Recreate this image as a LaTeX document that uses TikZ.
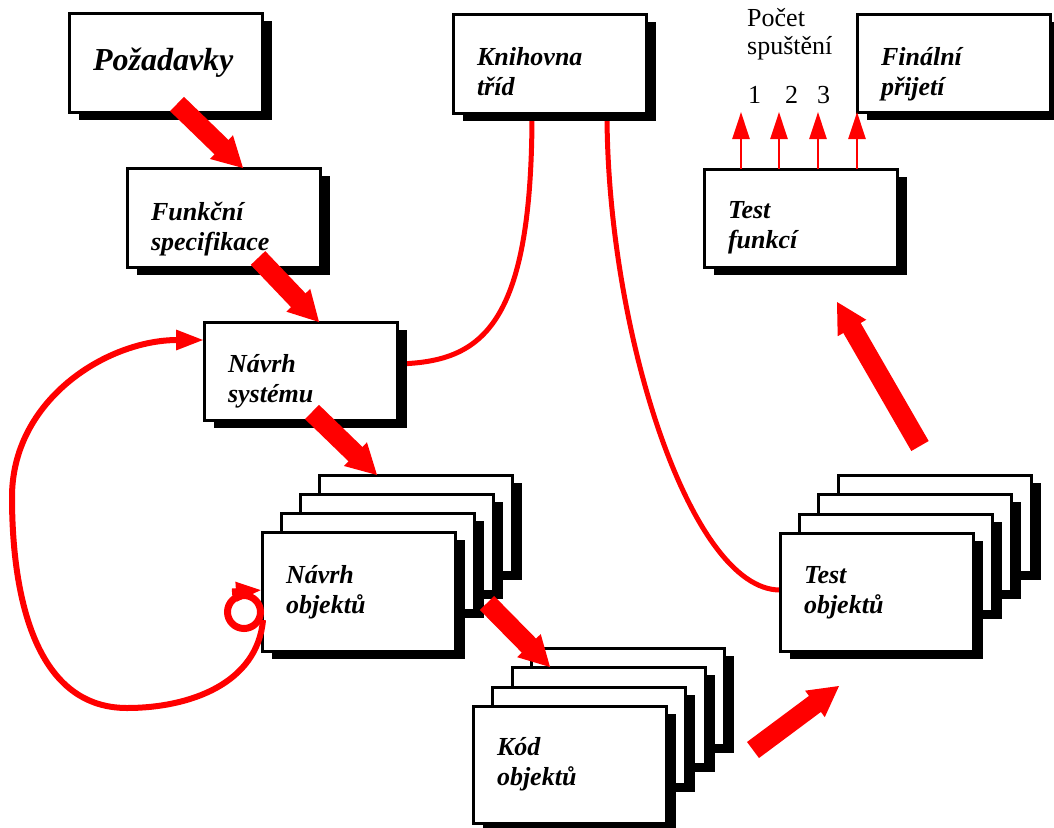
\documentclass[tikz,border=0pt]{standalone}
\usepackage{fontspec}
\setmainfont{Liberation Serif}
\usetikzlibrary{arrows.meta,shadows,calc}

\tikzset{
  card/.style={rectangle, draw=black, line width=3pt, fill=white,
    anchor=north west, inner xsep=24pt, inner ysep=0pt, outer sep=0pt,
    text width=145pt, align=left, text height=50pt, text depth=48pt,
    font=\fontsize{26}{30}\selectfont\bfseries\itshape,
    general shadow={fill=black, shadow xshift=10pt, shadow yshift=-8pt}},
  frontcard/.style={text depth=68pt},
  link/.style={draw=red, line width=5pt},
  loopline/.style={draw=red, line width=6pt},
  ringline/.style={draw=red, line width=7pt},
  run/.style={draw=red, line width=2.5pt, -{Triangle[length=27pt,width=17pt]}},
  plain/.style={font=\fontsize{26}{28}\selectfont, inner sep=0pt},
}

% fat red block arrow: shaft with a butt tail and a triangular head
\newcommand\flowarrow[2]{%
  \coordinate (fa-tail) at #1;
  \coordinate (fa-tip) at #2;
  \coordinate (fa-base) at ($(fa-tip)!30pt!(fa-tail)$);
  \draw[red, line width=20pt] (fa-tail) -- ($(fa-tip)!26pt!(fa-tail)$);
  \fill[red] (fa-tip) -- ($(fa-base)!16.5pt!90:(fa-tip)$)
    -- ($(fa-base)!16.5pt!-90:(fa-tip)$) -- cycle;
}

\begin{document}
\begin{tikzpicture}[x=1pt, y=1pt]
\useasboundingbox (0,0) rectangle (1054,-827);

% library links, drawn first so the boxes cover their ends
\coordinate (libA) at (532,-113);
\coordinate (libB) at (607,-113);
\coordinate (nsE) at (397,-364);
\coordinate (toW) at (780,-590);
\draw[link] (libA) .. controls (532,-330) and (480,-362) .. (nsE);
\draw[link] (libB) .. controls (607,-330) and (690,-590) .. (toW);

% single boxes
\node[card, text height=57pt, text depth=42pt,
      font=\fontsize{32}{36}\selectfont\bfseries\itshape] (req) at (69,-13) {Požadavky};
\node[card, text height=52pt, text depth=47pt] (fs) at (127,-168) {Funkční\\specifikace};
\node[card] (ns) at (204,-322) {Návrh\\systému};
\node[card, text height=51pt, text depth=48pt] (lib) at (453,-14) {Knihovna\\tříd};
\node[card, text height=49pt, text depth=49pt] (tf) at (704,-169) {Test\\funkcí};
\node[card, text height=51pt, text depth=47pt] (fin) at (857,-14) {Finální\\přijetí};

% stack: object design
\node[card, text depth=47pt] (no4) at (319,-475) {};
\node[card, text depth=47pt] (no3) at (300,-494) {};
\node[card, text depth=47pt] (no2) at (281,-513) {};
\node[card, frontcard, text height=51pt] (no1) at (262,-532) {Návrh\\objektů};

% stack: object code
\node[card, text depth=47pt] (ko4) at (531,-648) {};
\node[card, text depth=47pt] (ko3) at (512,-667) {};
\node[card, text depth=47pt] (ko2) at (492,-687) {};
\node[card, frontcard, text height=49pt] (ko1) at (473,-706) {Kód\\objektů};

% stack: object tests
\node[card, text depth=47pt] (to4) at (838,-475) {};
\node[card, text depth=47pt] (to3) at (818,-494) {};
\node[card, text depth=47pt] (to2) at (799,-514) {};
\node[card, frontcard] (to1) at (780,-533) {Test\\objektů};

% main flow
\flowarrow{([shift={(108,-91)}]req.north west)}{([xshift=116]fs.north west)}
\flowarrow{([shift={(131,-90)}]fs.north west)}{([xshift=115]ns.north west)}
\flowarrow{([shift={(108,-90)}]ns.north west)}{([xshift=58]no4.north west)}
\flowarrow{([shift={(225,-71)}]no1.north west)}{([xshift=38]ko3.north west)}
\coordinate (up5a) at (753,-750);
\coordinate (up5b) at (839,-686);
\flowarrow{(up5a)}{(up5b)}
\coordinate (up6a) at (920,-446);
\coordinate (up6b) at (837,-302);
\flowarrow{(up6a)}{(up6b)}

% iteration loop back to system design
\draw[loopline, -{Triangle[length=28pt,width=19pt]}]
  ([shift={(1,-88)}]no1.north west) to[out=-95,in=0] (127,-708)
  to[out=180,in=-90] (12,-497) to[out=90,in=180] ([yshift=-18]ns.north west);

% small self loop on object design
\draw[ringline] ([shift={(-18,-80)}]no1.north west) circle[radius=16.5];
\draw[ringline, -{Triangle[length=26pt,width=18pt]}]
  ([shift={(-30,-60)}]no1.north west) -- ([yshift=-58]no1.north west);

% runs of the function test
\node[plain, anchor=base west, text width=120pt, align=left] (cnt) at (747,-27) {Počet\\spuštění};
\node[plain, anchor=base west] (n1) at (748,-103) {1};
\node[plain, anchor=base west] (n2) at (785,-103) {2};
\node[plain, anchor=base west] (n3) at (817,-103) {3};
\coordinate (r1) at (741,-112);
\coordinate (r2) at (779,-112);
\coordinate (r3) at (818,-112);
\draw[run] (tf.north -| r1) -- (r1);
\draw[run] (tf.north -| r2) -- (r2);
\draw[run] (tf.north -| r3) -- (r3);
\draw[run] (tf.north -| fin.south west) -- (fin.south west);
\end{tikzpicture}
\end{document}
